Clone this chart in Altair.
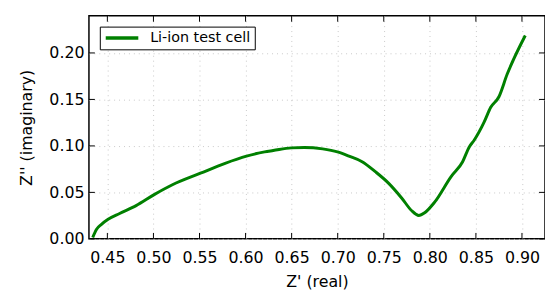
import altair as alt
import pandas as pd

# Data
zr = [0.4341, 0.4383, 0.4436, 0.4508, 0.4633, 0.4812, 0.5008, 0.5206, 0.5510,
      0.5778, 0.6010, 0.6207, 0.6300, 0.6496, 0.6639, 0.6837, 0.6997, 0.7122,
      0.7265, 0.7408, 0.7551, 0.7694, 0.7801, 0.7880, 0.7944, 0.8052, 0.8231,
      0.8356, 0.8428, 0.8481, 0.8589, 0.8661, 0.8750, 0.8839, 0.9036]
zi = [0.0015, 0.0103, 0.0156, 0.0210, 0.0273, 0.0358, 0.0476, 0.0582, 0.0706,
      0.0813, 0.0890, 0.0936, 0.0950, 0.0979, 0.0983, 0.0968, 0.0936, 0.0890,
      0.0830, 0.0723, 0.0600, 0.0440, 0.0305, 0.0252, 0.0281, 0.0395, 0.0670,
      0.0830, 0.0989, 0.1061, 0.1255, 0.1415, 0.1529, 0.1770, 0.2188]
series_name = "Li-ion test cell"
x_ticks = [0.45, 0.50, 0.55, 0.60, 0.65, 0.70, 0.75, 0.80, 0.85, 0.90]
y_ticks = [0.00, 0.05, 0.10, 0.15, 0.20]
x_domain = [0.43, 0.925]
y_domain = [0.0, 0.24]

W, H = 462, 226
FONT = "DejaVu Sans"
TICK = 6

df = pd.DataFrame({"x": zr, "y": zi, "i": list(range(len(zr))), "s": series_name})
xt = pd.DataFrame({"v": x_ticks})
yt = pd.DataFrame({"v": y_ticks})

xscale = alt.Scale(domain=x_domain, nice=False, zero=False)
yscale = alt.Scale(domain=y_domain, nice=False, zero=False)

line = alt.Chart(df).mark_line(strokeWidth=3, clip=True, interpolate="monotone").encode(
    x=alt.X("x:Q", scale=xscale, title="Z' (real)",
            axis=alt.Axis(values=x_ticks, format=".2f", ticks=False, tickSize=0,
                          labelPadding=11, titlePadding=8, domain=False,
                          gridColor="#c8c8c8", gridDash=[1, 4], gridWidth=1)),
    y=alt.Y("y:Q", scale=yscale, title="Z'' (imaginary)",
            axis=alt.Axis(values=y_ticks, format=".2f", ticks=False, tickSize=0,
                          labelPadding=5, titlePadding=15, domain=False,
                          gridColor="#c8c8c8", gridDash=[1, 4], gridWidth=1)),
    order="i:Q",
    color=alt.Color("s:N", scale=alt.Scale(range=["#008000"]),
                    legend=alt.Legend(title=None, orient="none", legendX=11, legendY=11,
                                      fillColor="white", strokeColor="black",
                                      padding=4, cornerRadius=0, symbolType="stroke",
                                      symbolSize=1089, symbolStrokeWidth=3.5,
                                      clipHeight=15,
                                      labelFontSize=14.5, labelFont=FONT,
                                      labelColor="black", labelOffset=10)),
)

xb = alt.Chart(xt).mark_rule(color="black", strokeWidth=1).encode(
    x=alt.X("v:Q", scale=xscale), y=alt.value(H), y2=alt.value(H - TICK))
xtop = alt.Chart(xt).mark_rule(color="black", strokeWidth=1).encode(
    x=alt.X("v:Q", scale=xscale), y=alt.value(0), y2=alt.value(TICK))
yl = alt.Chart(yt).mark_rule(color="black", strokeWidth=1).encode(
    y=alt.Y("v:Q", scale=yscale), x=alt.value(0), x2=alt.value(TICK))
yr = alt.Chart(yt).mark_rule(color="black", strokeWidth=1).encode(
    y=alt.Y("v:Q", scale=yscale), x=alt.value(W), x2=alt.value(W - TICK))

chart = alt.layer(line, xb, xtop, yl, yr).properties(
    width=W, height=H,
    autosize=alt.AutoSizeParams(type="none"),
    padding={"left": 82, "top": 6, "right": 0, "bottom": 55},
).configure(
    background="white"
).configure_view(
    stroke="black", strokeWidth=1.5
).configure_axis(
    labelFont=FONT, labelFontSize=16, labelColor="black",
    titleFont=FONT, titleFontSize=16, titleColor="black", titleFontWeight="normal",
)

chart.save("out.html", embed_options={"renderer": "svg", "actions": False})
